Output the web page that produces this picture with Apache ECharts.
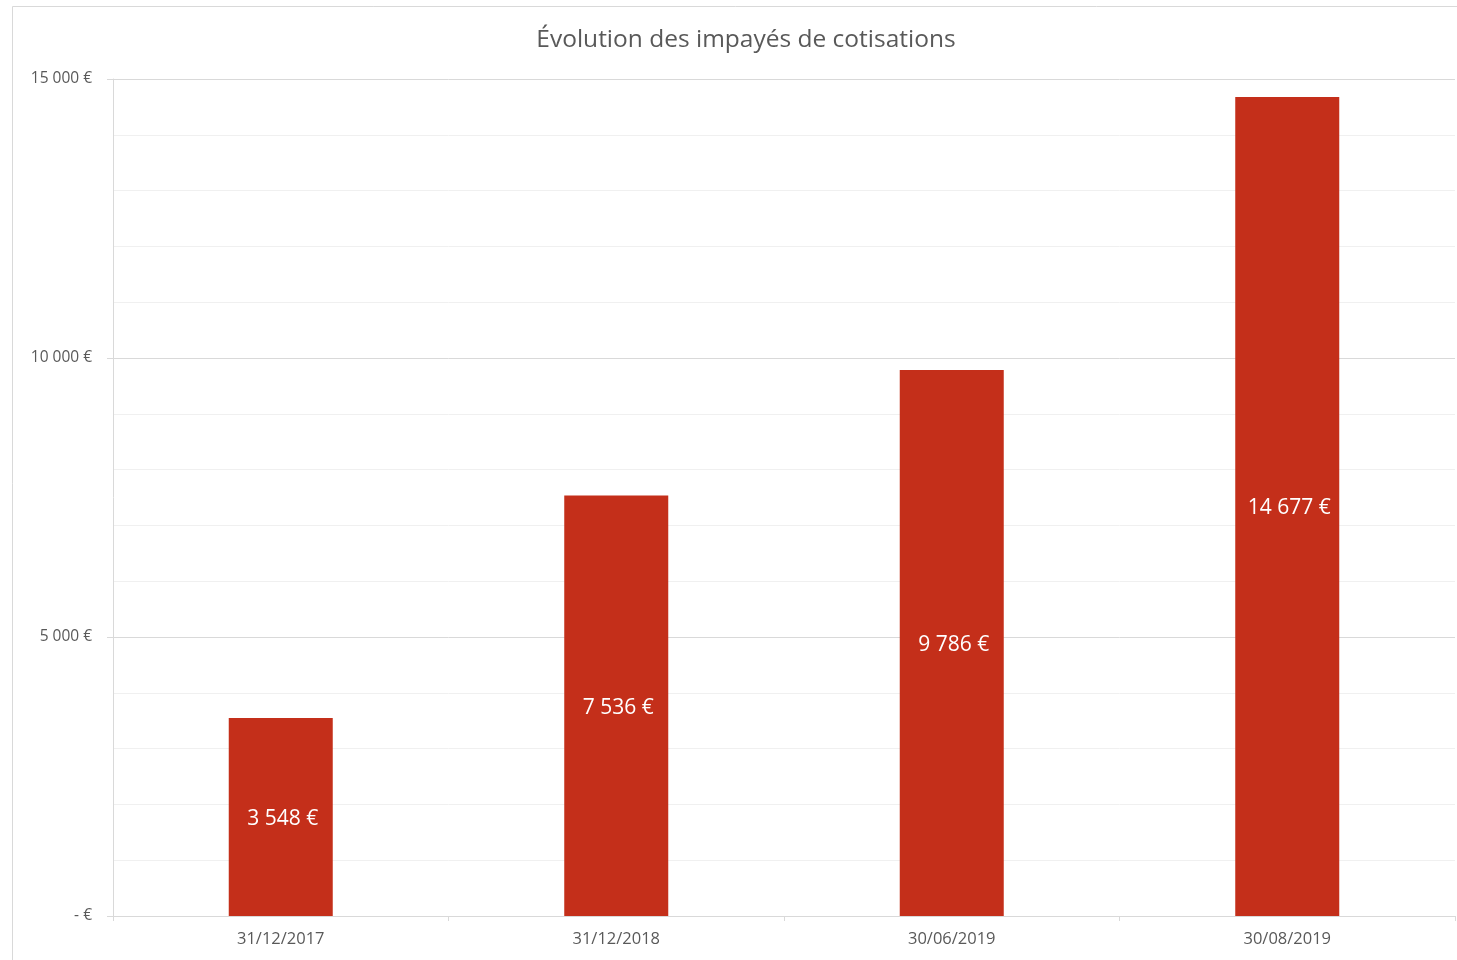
<!DOCTYPE html>
<html>
<head>
<meta charset="utf-8">
<script src="https://cdn.jsdelivr.net/npm/echarts@6/dist/echarts.min.js"></script>
<style>
  html, body { margin: 0; padding: 0; background: #fff; }
  #chart { width: 1457px; height: 960px; }
</style>
</head>
<body>
<div id="chart"></div>
<script>
// Unpaid contributions at each reporting date
const categories = ['31/12/2017', '31/12/2018', '30/06/2019', '30/08/2019'];
const unpaid = [3548, 7536, 9786, 14677];
const yTicks = [0, 5000, 10000, 15000];

const FONT = '"Open Sans", "Liberation Sans", sans-serif';
const TEXT = '#595959';

function euro(v) {
  if (v === 0) return '- €';
  return String(Math.round(v)).replace(/\B(?=(\d{3})+(?!\d))/g, ' ') + ' €';
}

const chart = echarts.init(document.getElementById('chart'), null, { renderer: 'canvas' });

chart.setOption({
  backgroundColor: '#ffffff',
  animation: false,
  title: {
    text: 'Évolution des impayés de cotisations',
    left: 741,
    textAlign: 'center',
    top: 23,
    textStyle: { fontFamily: FONT, fontSize: 24.5, fontWeight: 'normal', color: TEXT }
  },
  graphic: [{
    type: 'rect',
    shape: { x: 12.5, y: 6.5, width: 1500, height: 1000 },
    style: { fill: 'none', stroke: '#d9d9d9', lineWidth: 1 },
    silent: true
  }],
  grid: { left: 113, right: 2, top: 79, bottom: 44, containLabel: false },
  xAxis: {
    type: 'category',
    data: categories,
    axisLine: { show: true, lineStyle: { color: '#d9d9d9', width: 1 } },
    axisTick: { show: true, alignWithLabel: false, length: 5, lineStyle: { color: '#d9d9d9' } },
    axisLabel: { fontFamily: FONT, fontSize: 16.5, color: TEXT, margin: 15 },
    splitLine: { show: false }
  },
  yAxis: {
    type: 'value',
    min: yTicks[0],
    max: yTicks[yTicks.length - 1],
    interval: 5000,
    axisLine: { show: true, lineStyle: { color: '#d9d9d9', width: 1 } },
    axisTick: { show: true, length: 6, lineStyle: { color: '#d9d9d9' } },
    axisLabel: { fontFamily: FONT, fontSize: 15.5, color: TEXT, margin: 21, formatter: euro, padding: [6, 0, 0, 0] },
    splitLine: { show: true, lineStyle: { color: '#d9d9d9', width: 1 } },
    minorTick: { show: false, splitNumber: 5 },
    minorSplitLine: { show: true, lineStyle: { color: '#f0f0f0', width: 1 } }
  },
  series: [{
    type: 'bar',
    data: unpaid,
    barWidth: '31%',
    itemStyle: { color: '#c42f1a' },
    label: {
      show: true,
      position: 'inside',
      offset: [2, 2],
      color: '#ffffff',
      fontFamily: FONT,
      fontSize: 21,
      formatter: p => euro(p.value)
    }
  }]
});
</script>
</body>
</html>
